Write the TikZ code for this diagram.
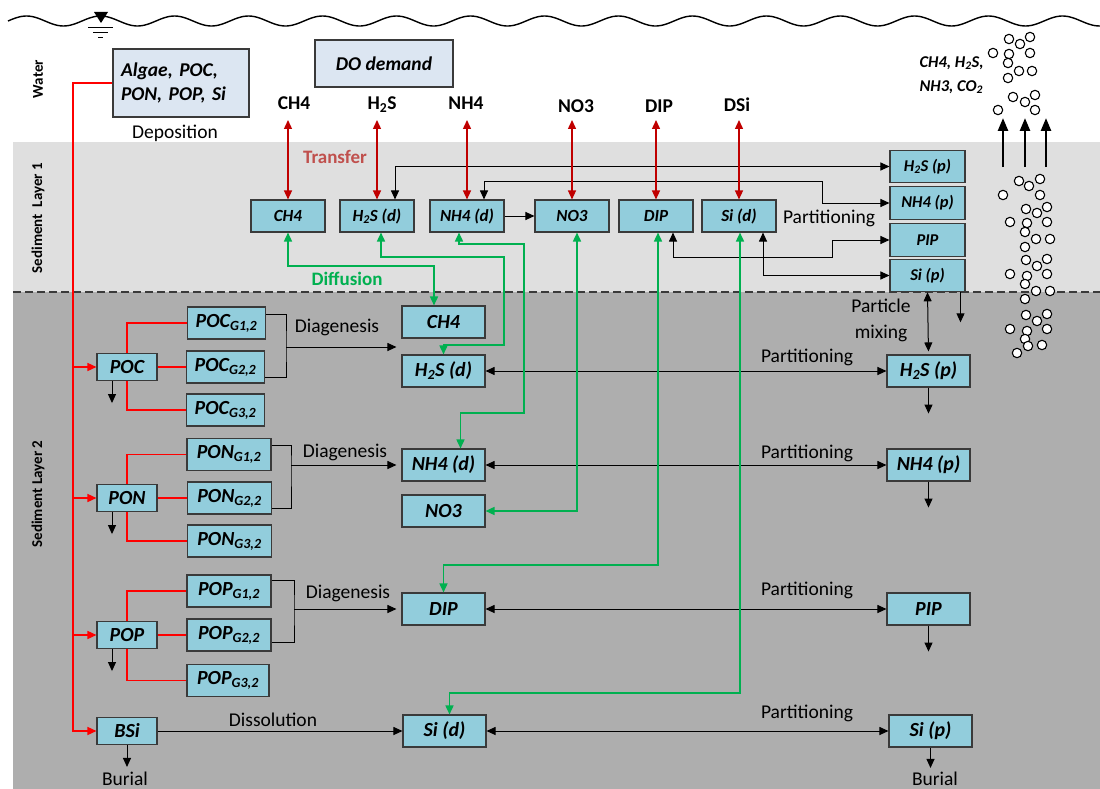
\documentclass[tikz,border=0pt]{standalone}
\usepackage{fontspec}
\setmainfont{Carlito}
\usetikzlibrary{arrows.meta, positioning}

\definecolor{boxfill}{HTML}{92CDDC}
\definecolor{topfill}{HTML}{DCE6F2}
\definecolor{boxline}{HTML}{3A3A3A}
\definecolor{layA}{HTML}{DFDFDF}
\definecolor{layB}{HTML}{AEAEAE}
\definecolor{transred}{HTML}{C00000}
\definecolor{depred}{HTML}{FF0000}
\definecolor{diffgreen}{HTML}{00B050}
\definecolor{transtext}{HTML}{C0504D}

\newcommand{\fsz}[1]{\fontsize{#1}{#1}\selectfont}

\begin{document}
\begin{tikzpicture}[x=1pt, y=-1pt, >={Triangle[length=9pt,width=8pt]},
  cbox/.style={draw=boxline, line width=1.1pt, fill=boxfill, inner sep=0pt, font=\bfseries\itshape\fsz{20}},
  sbox/.style={cbox, minimum width=74pt, minimum height=32pt, font=\bfseries\itshape\fsz{17}},
  mbox/.style={cbox, minimum width=83pt, minimum height=32pt},
  pbox/.style={cbox, minimum width=60pt, minimum height=27pt},
  gbox/.style={cbox, minimum width=#1, minimum height=32pt},
  rbox/.style={cbox, minimum width=75pt, minimum height=32.5pt, font=\bfseries\itshape\fsz{16.5}},
  topbox/.style={draw=boxline, line width=1.1pt, fill=topfill, inner sep=0pt, font=\bfseries\itshape\fsz{19.5}},
  lbl/.style={font=\fsz{19.5}, inner sep=1pt},
  toplbl/.style={font=\bfseries\fsz{19.5}},
  side/.style={font=\bfseries\fsz{15}, rotate=90},
  flow/.style={draw=black, line width=1pt, ->},
  part/.style={draw=black, line width=1pt, <->},
  trans/.style={draw=transred, line width=1.4pt, <->},
  diff/.style={draw=diffgreen, line width=1.6pt, <->},
  dep/.style={draw=depred, line width=1.5pt},
  bubble/.style={draw=black, line width=1.1pt, fill=white},
  gas/.style={line width=2.5pt, -{Triangle[length=13pt,width=10pt]}}]

\useasboundingbox (0,0) rectangle (1100,789);
% layers
\fill[layA] (13,142) rectangle (1100,292);
\fill[layB] (13,292) rectangle (1100,789);
\draw[boxline, line width=1.2pt, dash pattern=on 8pt off 4pt] (13,292) -- (1100,292);

% water surface
\draw[line width=1.4pt] plot[domain=8:1100, samples=400] (\x, {21-5*sin((\x-8)*4.8649)});
\fill (94,12) -- (108,12) -- (101,23) -- cycle;
\draw[line width=1pt] (88,28) -- (113,28) (93,33) -- (108,33) (98,38) -- (103,38);

\node[side] (wlab) at (38,79) {Water};
\node[side] (s1lab) at (38,218) {Sediment~~Layer 1};
\node[side] (s2lab) at (38,494) {Sediment Layer 2};

\node[topbox, minimum width=136pt, minimum height=68pt, text width=120pt, align=left,
  font=\bfseries\itshape\fontsize{19.5}{24}\selectfont] (algae) at (181,83) {Algae, POC,\\PON, POP, Si};
\node[topbox, minimum width=138pt, minimum height=47pt] (demand) at (384,63.5) {DO demand};
\node[lbl] (depo) at (175,133) {Deposition};

\node[toplbl] (tCH4) at (294,103) {CH4};
\node[toplbl] (tH2S) at (382,105) {H\textsubscript{2}S};
\node[toplbl] (tNH4) at (466,103) {NH4};
\node[toplbl] (tNO3) at (576,106) {NO3};
\node[toplbl] (tDIP) at (659,106) {DIP};
\node[toplbl] (tDSi) at (737,105) {DSi};

% sediment layer 1
\node[sbox] (L1ch4) at (288,216) {CH4};
\node[sbox] (L1h2s) at (377,216) {H\textsubscript{2}S (d)};
\node[sbox] (L1nh4) at (467,216) {NH4 (d)};
\node[sbox] (L1no3) at (572,216) {NO3};
\node[sbox] (L1dip) at (656,216) {DIP};
\node[sbox] (L1si) at (739,216) {Si (d)};

\node[rbox] (R1h2s) at (927.5,166.5) {H\textsubscript{2}S (p)};
\node[rbox] (R1nh4) at (927.5,203) {NH4 (p)};
\node[rbox] (R1pip) at (927.5,240) {PIP};
\node[rbox] (R1si) at (927.5,275.5) {Si (p)};

% sediment layer 2
\node[pbox] (poc) at (127,367) {POC};
\node[pbox] (pon) at (127,498) {PON};
\node[pbox] (pop) at (127,635) {POP};
\node[pbox] (bsi) at (127,731) {BSi};

\node[gbox=78pt] (gc1) at (226.5,323) {POC\textsubscript{G1,2}};
\node[gbox=78pt] (gc2) at (225.5,367) {POC\textsubscript{G2,2}};
\node[gbox=78pt] (gc3) at (225.5,410) {POC\textsubscript{G3,2}};
\node[gbox=84pt] (gn1) at (229,454.5) {PON\textsubscript{G1,2}};
\node[gbox=84pt] (gn2) at (229.5,498) {PON\textsubscript{G2,2}};
\node[gbox=84pt] (gn3) at (229.5,541) {PON\textsubscript{G3,2}};
\node[gbox=84pt] (gp1) at (229,591) {POP\textsubscript{G1,2}};
\node[gbox=84pt] (gp2) at (229,635) {POP\textsubscript{G2,2}};
\node[gbox=82pt] (gp3) at (228,680.5) {POP\textsubscript{G3,2}};

\node[mbox] (L2ch4) at (443.5,322) {CH4};
\node[mbox] (L2h2s) at (443.5,371) {H\textsubscript{2}S (d)};
\node[mbox] (L2nh4) at (443.5,465) {NH4 (d)};
\node[mbox] (L2no3) at (443.5,511) {NO3};
\node[mbox] (L2dip) at (443.5,609) {DIP};
\node[mbox] (L2si) at (444.5,731) {Si (d)};

\node[mbox] (R2h2s) at (928.5,371) {H\textsubscript{2}S (p)};
\node[mbox] (R2nh4) at (928.5,465) {NH4 (p)};
\node[mbox] (R2pip) at (928.5,609) {PIP};
\node[mbox] (R2si) at (930.5,731) {Si (p)};

% labels
\node[font=\bfseries\fsz{19}, text=transtext] (trlab) at (335,157) {Transfer};
\node[font=\bfseries\fsz{19}, text=diffgreen] (dflab) at (347,279) {Diffusion};
\node[lbl] (ptA) at (829,218) {Partitioning};
\node[lbl, align=center, font=\fontsize{19.5}{26}\selectfont] (mix) at (881,320) {Particle\\mixing};
\node[lbl] (ptB) at (807,357) {Partitioning};
\node[lbl] (ptC) at (807,453) {Partitioning};
\node[lbl] (ptD) at (807,590) {Partitioning};
\node[lbl] (ptE) at (807,713) {Partitioning};
\node[lbl] (dgC) at (337,327) {Diagenesis};
\node[lbl] (dgN) at (345,452) {Diagenesis};
\node[lbl] (dgP) at (348,593) {Diagenesis};
\node[lbl] (dis) at (273,720) {Dissolution};
\node[lbl] (burL) at (125,779) {Burial};
\node[lbl] (burR) at (935,779) {Burial};
\node[font=\bfseries\itshape\fontsize{16.5}{24}\selectfont, align=left, anchor=west] (gaslab) at (916,75) {CH4, H\textsubscript{2}S,\\NH3, CO\textsubscript{2}};

% deposition
\coordinate (rbot) at (73,731);
\draw[dep,->] (algae.west) -| (rbot) -- (bsi.west);
\foreach \p in {poc,pon,pop} \draw[dep,->] (\p.west -| rbot) -- (\p.west);
\foreach \p/\g in {poc/gc,pon/gn,pop/gp}{
  \draw[dep] (\p.north) |- (\g1.west);
  \draw[dep] (\p.east) -- (\g2.west);
  \draw[dep] (\p.south) |- (\g3.west);
  \draw[flow] ([xshift=-15pt]\p.south) -- ([xshift=-15pt,yshift=-22pt]\p.south);
}

% diagenesis
\coordinate (bC) at (286,347);
\coordinate (bN) at (291,465);
\coordinate (bP) at (294,609);
\draw[line width=1pt] ([yshift=9pt]gc1.east) -| (bC) |- ([yshift=-10pt]gc2.east);
\draw[line width=1pt] ([yshift=9pt]gn1.east) -| (bN) |- ([yshift=-10pt]gn2.east);
\draw[line width=1pt] ([yshift=11pt]gp1.east) -| (bP) |- ([yshift=-7pt]gp2.east);
\draw[flow, shorten >=5pt] (bC) -- (bC -| L2ch4.west);
\draw[flow, shorten >=5pt] (bN) -- (bN -| L2nh4.west);
\draw[flow, shorten >=5pt] (bP) -- (bP -| L2dip.west);
\draw[flow] (bsi.east) -- (bsi.east -| L2si.west);
\draw[flow, shorten >=4pt] (bsi.south) -- (bsi.south |- burL.north);

% partitioning
\path (L2h2s) edge[part] (R2h2s);
\path (L2nh4) edge[part] (R2nh4);
\path (L2dip) edge[part] (R2pip);
\path (L2si) edge[part] (R2si);
\foreach \r in {R2h2s,R2nh4,R2pip} \draw[flow] (\r.south) -- ([yshift=-26pt]\r.south);
\draw[flow, shorten >=3pt] (R2si.south) -- (R2si.south |- burR.north);

\coordinate (pN) at (822,181);
\coordinate (pP) at (832,257);
\draw[part] ([xshift=18pt]L1h2s.north) |- (R1h2s.west);
\draw[part] ([xshift=17pt]L1nh4.north) |- (pN) |- (R1nh4.west);
\draw[part] ([xshift=17pt]L1dip.south) |- (pP) |- (R1pip.west);
\draw[part] ([xshift=24pt]L1si.south) |- (R1si.west);
\path (L1nh4) edge[flow] (L1no3);

% particle mixing
\draw[part, shorten >=3pt] (R1si.south) -- (R2h2s.north);
\draw[flow] ([xshift=33pt]R1si.south) -- ([xshift=33pt,yshift=-30pt]R1si.south);

% transfer
\coordinate (ttop) at (0,120);
\foreach \b in {L1ch4,L1h2s,L1nh4,L1no3,L1dip,L1si} \draw[trans] (\b.north) -- (\b.north |- ttop);

% diffusion
\coordinate (gC) at (434,266);
\coordinate (gH1) at (504,257);
\coordinate (gH2) at (504,345);
\coordinate (gN1) at (524,244);
\coordinate (gN2) at (524,413);
\coordinate (gP) at (658,565);
\coordinate (gS) at (740,693);
\draw[diff] (L1ch4.south) |- (gC) -- (gC |- L2ch4.north);
\draw[diff] ([xshift=4pt]L1h2s.south) |- (gH1) -- (gH2) -| (L2h2s.north);
\draw[diff] ([xshift=-8pt]L1nh4.south) |- (gN1) -- (gN2) -| ([xshift=17pt]L2nh4.north);
\draw[diff] ([xshift=5pt]L1no3.south) |- (L2no3.east);
\draw[diff] ([xshift=2pt]L1dip.south) |- (gP) -| (L2dip.north);
\draw[diff] ([xshift=1pt]L1si.south) |- (gS) -| ([xshift=5pt]L2si.north);

% gas bubbles
\foreach \x in {1003,1025,1046} \draw[gas] (\x,167) -- (\x,118);
\foreach \x/\y in {1009/39,1020/44,1030/37,993/53,1009/54,1030/53,1008/63,1019/71,1032/71,1008/78,
  1013/97,1025/102,1035/95,998/110,1035/110,
  1019/181,1029/186,1040/179,1003/195,1040/195,
  1026/209,1037/213,1047/207,1010/222,1027/223,1047/222,
  1025/232,1036/239,1050/239,1025/247,
  1026/260,1037/266,1047/259,1010/274,1027/276,1047/274,
  1025/284,1036/291,1050/291,1025/299,
  1026/315,1037/321,1047/314,1010/329,1027/331,1047/329,
  1025/339,1028/346,1042/345,1017/353}
  \draw[bubble] (\x,\y) circle[radius=4.7pt];
\end{tikzpicture}
\end{document}
